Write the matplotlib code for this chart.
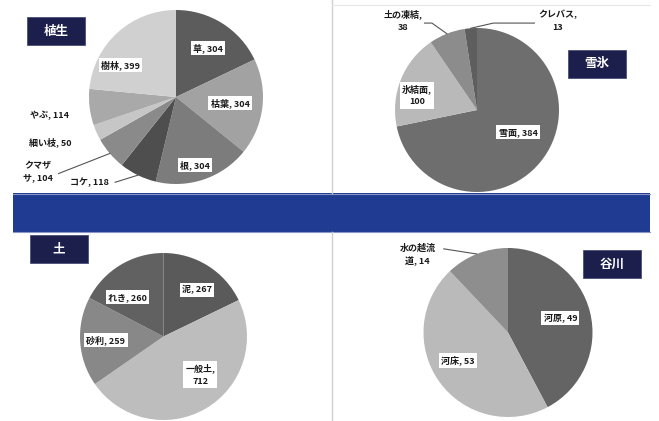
import numpy as np
import matplotlib.pyplot as plt
from matplotlib.patches import Rectangle

plt.rcParams['font.family'] = ['Noto Sans CJK JP', 'DejaVu Sans']

W, H = 659, 421

# 植生
veg_names = ['草', '枯葉', '根', 'コケ', 'クマザサ', '細い枝', 'やぶ', '樹林']
veg_values = [304, 304, 304, 118, 104, 50, 114, 399]
veg_colors = ['#5c5c5c', '#a2a2a2', '#7c7c7c', '#4e4e4e', '#8a8a8a', '#c6c6c6', '#a9a9a9', '#d0d0d0']

# 雪氷
snow_names = ['雪面', '氷結面', '土の凍結', 'クレバス']
snow_values = [384, 100, 38, 13]
snow_colors = ['#6e6e6e', '#b9b9b9', '#8c8c8c', '#5e5e5e']

# 土
soil_names = ['泥', '一般土', '砂利', 'れき']
soil_values = [267, 712, 259, 260]
soil_colors = ['#5a5a5a', '#bdbdbd', '#888888', '#616161']

# 谷川
river_names = ['河原', '河床', '水の越流道']
river_values = [49, 53, 14]
river_colors = ['#646464', '#bababa', '#8e8e8e']


def fmt(name, value, brk=None):
    if brk is None:
        return f'{name}, {value}'
    if brk == 'comma':
        return f'{name},\n{value}'
    return f'{name[:brk]}\n{name[brk:]}, {value}'


def edge_point(values, i, r=1.0):
    # point on the rim at the middle of slice i (clockwise from 12 o'clock)
    cum = np.cumsum([0] + list(values)) / sum(values) * 360
    ang = np.deg2rad(90 - (cum[i] + cum[i + 1]) / 2)
    return r * np.cos(ang), r * np.sin(ang)


def draw_pie(cx, cy, r, values, colors, labels):
    ax = fig.add_axes([(cx - r) / W, 1 - (cy + r) / H, 2 * r / W, 2 * r / H])
    ax.pie(values, colors=colors, startangle=90, counterclock=False, radius=1,
           wedgeprops=dict(linewidth=0))
    ax.set_xlim(-1, 1)
    ax.set_ylim(-1, 1)
    ax.set_axis_off()
    for lab in labels:
        i, text, pos, boxed = lab[:4]
        kw = dict(ha='center', va='center', fontsize=6.5, fontweight='bold',
                  color='#1a1a1a', linespacing=1.5, zorder=5)
        if boxed:
            kw['bbox'] = dict(boxstyle='square,pad=0.25', fc='white', ec='none')
        ax.text(pos[0], pos[1], text, **kw)
        if len(lab) > 4:
            start, knee = lab[4]
            ex, ey = edge_point(values, i)
            pts = [start] + ([knee] if knee else []) + [(ex, ey)]
            xs, ys = zip(*pts)
            ax.plot(xs, ys, color='#555555', lw=0.8, clip_on=False)
    return ax


fig = plt.figure(figsize=(W / 100, H / 100), dpi=100)
bg = fig.add_axes([0, 0, 1, 1])
bg.set_xlim(0, W)
bg.set_ylim(H, 0)
bg.set_axis_off()

# blue band across the middle and the panel dividers
bg.add_patch(Rectangle((13, 193), 637, 39, fc='#1f3c92', ec='none'))
bg.plot([13, 650], [193.5, 193.5], color='#8a96c4', lw=0.8)
bg.plot([13, 650], [231.5, 231.5], color='#8a96c4', lw=0.8)
bg.plot([332, 332], [0, 193], color='#cfcfcf', lw=1)
bg.plot([332, 332], [232, H], color='#cfcfcf', lw=1)
bg.plot([332, 650], [5, 5], color='#e6e6e6', lw=0.8)

# panel titles
for x0, y0, title in [(27, 17, '植生'), (568, 50, '雪氷'), (30, 235, '土'), (583, 250, '谷川')]:
    bg.add_patch(Rectangle((x0, y0), 58, 28, fc='#1c1f4c', ec='#4a4f78', lw=0.6))
    bg.text(x0 + 29, y0 + 14, title, ha='center', va='center', color='white',
            fontsize=9, fontweight='bold')

n = veg_names
v = veg_values
draw_pie(176, 97, 87, veg_values, veg_colors, [
    (0, fmt(n[0], v[0]), (0.37, 0.56), True),
    (1, fmt(n[1], v[1]), (0.62, -0.07), True),
    (2, fmt(n[2], v[2]), (0.22, -0.78), True),
    (3, fmt(n[3], v[3]), (-1.00, -0.98), False, ((-0.70, -0.98), None)),
    (4, fmt(n[4], v[4], 3), (-1.59, -0.86), False, ((-1.35, -0.88), None)),
    (5, fmt(n[5], v[5]), (-1.45, -0.52), False),
    (6, fmt(n[6], v[6]), (-1.45, -0.21), False),
    (7, fmt(n[7], v[7]), (-0.64, 0.37), True),
])

n = snow_names
v = snow_values
draw_pie(477, 110, 82, snow_values, snow_colors, [
    (0, fmt(n[0], v[0]), (0.50, -0.27), True),
    (1, fmt(n[1], v[1], 'comma'), (-0.73, 0.18), True),
    (2, fmt(n[2], v[2], 'comma'), (-0.90, 1.09), False, ((-0.64, 1.06), (-0.55, 1.06))),
    (3, fmt(n[3], v[3], 'comma'), (0.98, 1.09), False, ((0.70, 1.06), (0.20, 1.06))),
])

n = soil_names
v = soil_values
draw_pie(163.5, 336.5, 83.5, soil_values, soil_colors, [
    (0, fmt(n[0], v[0]), (0.40, 0.56), True),
    (1, fmt(n[1], v[1], 'comma'), (0.44, -0.46), True),
    (2, fmt(n[2], v[2]), (-0.69, -0.04), True),
    (3, fmt(n[3], v[3]), (-0.43, 0.47), True),
])

n = river_names
v = river_values
draw_pie(508, 332.5, 84.5, river_values, river_colors, [
    (0, fmt(n[0], v[0]), (0.62, 0.17), True),
    (1, fmt(n[1], v[1]), (-0.59, -0.33), True),
    (2, fmt(n[2], v[2], 4), (-1.07, 0.92), False, ((-0.76, 0.99), None)),
])

fig.savefig('out.png', dpi=100, facecolor='white')
